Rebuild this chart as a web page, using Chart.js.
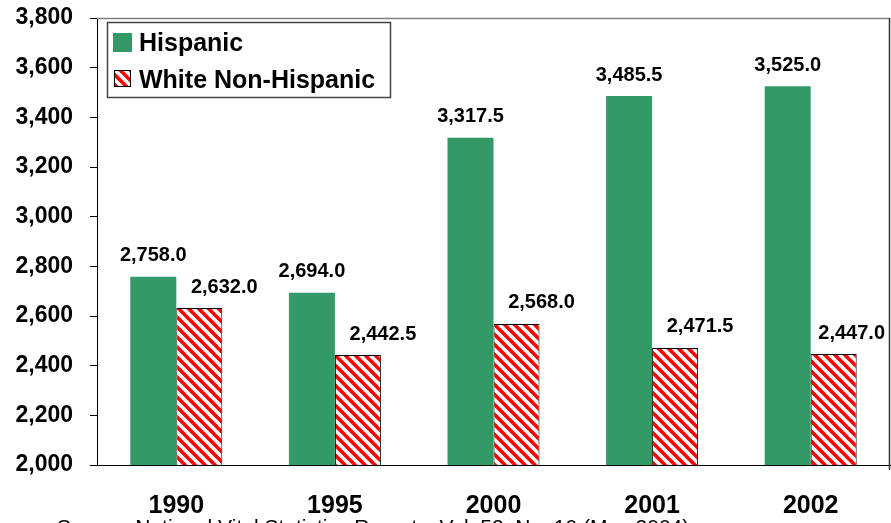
<!DOCTYPE html>
<html>
<head>
<meta charset="utf-8">
<script src="https://cdn.jsdelivr.net/npm/chart.js@4/dist/chart.umd.min.js"></script>
<style>
  html, body { margin: 0; padding: 0; background: #fff; }
  #wrap { width: 891px; height: 523px; position: relative; }
</style>
</head>
<body>
<div id="wrap"><canvas id="birthChart"></canvas></div>
<script>
// Chart data
const years = ['1990', '1995', '2000', '2001', '2002'];
const hispanic = [2758.0, 2694.0, 3317.5, 3485.5, 3525.0];
const whiteNonHispanic = [2632.0, 2442.5, 2568.0, 2471.5, 2447.0];
const seriesNames = ['Hispanic', 'White Non-Hispanic'];
const yTicks = [2000, 2200, 2400, 2600, 2800, 3000, 3200, 3400, 3600, 3800];
const sourceNote = 'Source: National Vital Statistics Reports, Vol. 52, No. 10 (May 2004)';

const GREEN = '#339966';

// red / white diagonal hatch
function makeHatch() {
    const s = 10;
    const c = document.createElement('canvas');
    c.width = s; c.height = s;
    const g = c.getContext('2d');
    g.fillStyle = '#ffffff';
    g.fillRect(0, 0, s, s);
    g.strokeStyle = '#ff0000';
    g.lineWidth = 3.6;
    for (let k = -1; k <= 1; k++) {
        g.beginPath();
        g.moveTo(k * s - 2, -2);
        g.lineTo(k * s + s + 2, s + 2);
        g.stroke();
    }
    return g.createPattern(c, 'repeat');
}
const hatch = makeHatch();

const fmt = v => v.toLocaleString('en-US', { minimumFractionDigits: 1, maximumFractionDigits: 1 });

// value labels over the bars
const valueLabels = {
    id: 'valueLabels',
    afterDatasetsDraw(chart) {
        const ctx = chart.ctx;
        ctx.save();
        ctx.font = 'bold 20px Arial, "Liberation Sans", sans-serif';
        ctx.fillStyle = '#000';
        ctx.textAlign = 'center';
        ctx.textBaseline = 'middle';
        const shifts = [0, 25];
        chart.data.datasets.forEach((ds, i) => {
            chart.getDatasetMeta(i).data.forEach((bar, j) => {
                const txt = fmt(ds.data[j]);
                const half = ctx.measureText(txt).width / 2;
                // keep the label inside the canvas
                const x = Math.min(bar.x + shifts[i], chart.width - 6 - half);
                ctx.fillText(txt, x, bar.y - 21);
            });
        });
        ctx.restore();
    }
};

// frame, legend box and source note
const extras = {
    id: 'extras',
    afterDraw(chart) {
        const ctx = chart.ctx;
        const a = chart.chartArea;
        ctx.save();
        // top and right frame
        ctx.lineWidth = 1.5;
        ctx.strokeStyle = '#808080';
        ctx.beginPath();
        ctx.moveTo(a.left, a.top + 0.5);
        ctx.lineTo(a.right, a.top + 0.5);
        ctx.stroke();
        ctx.strokeStyle = '#333';
        ctx.beginPath();
        ctx.moveTo(a.right - 0.5, a.top);
        ctx.lineTo(a.right - 0.5, a.bottom + 5);
        ctx.stroke();

        // legend
        ctx.lineWidth = 1.5;
        ctx.strokeStyle = '#444';
        ctx.fillStyle = '#fff';
        ctx.fillRect(107, 22, 284, 76);
        ctx.strokeRect(107.5, 22.5, 283, 75);

        const ds = chart.data.datasets;
        ctx.fillStyle = ds[0].backgroundColor;
        ctx.fillRect(113, 33, 19, 19);

        ctx.fillStyle = ds[1].backgroundColor;
        ctx.fillRect(114, 70, 17, 17);
        ctx.lineWidth = 1;
        ctx.strokeStyle = '#000';
        ctx.strokeRect(114.5, 70.5, 16, 16);

        ctx.fillStyle = '#000';
        ctx.font = 'bold 25px Arial, "Liberation Sans", sans-serif';
        ctx.textAlign = 'left';
        ctx.textBaseline = 'middle';
        ctx.fillText(ds[0].label, 139, 44);
        ctx.fillText(ds[1].label, 139, 81);

        // source line, clipped by the window bottom
        ctx.font = '21px Arial, "Liberation Sans", sans-serif';
        ctx.textBaseline = 'alphabetic';
        ctx.fillText(sourceNote, 57, 534);
        ctx.restore();
    }
};

const ctx = document.getElementById('birthChart').getContext('2d');
const birthChart = new Chart(ctx, {
    type: 'bar',
    data: {
        labels: years,
        datasets: [{
            label: seriesNames[0],
            data: hispanic,
            backgroundColor: GREEN,
            borderWidth: 0
        }, {
            label: seriesNames[1],
            data: whiteNonHispanic,
            backgroundColor: hatch,
            borderColor: '#000',
            borderWidth: 1
        }]
    },
    options: {
        responsive: true,
        maintainAspectRatio: false,
        animation: false,
        layout: { padding: { top: 18, right: 1, left: 0, bottom: 0 } },
        datasets: {
            bar: { categoryPercentage: 0.58, barPercentage: 1.0 }
        },
        plugins: {
            legend: { display: false },
            tooltip: { enabled: false }
        },
        scales: {
            x: {
                grid: { display: false, drawTicks: false },
                border: { display: true, color: '#000', width: 1 },
                ticks: {
                    color: '#000',
                    padding: 26,
                    font: { family: '"Liberation Sans Narrow", "Arial Narrow", Arial, sans-serif', size: 25, weight: 'bold' }
                },
                afterFit(scale) {
                    scale.height = 58;
                    scale.paddingLeft = 0;
                    scale.paddingRight = 0;
                }
            },
            y: {
                min: 2000,
                max: 3800,
                afterBuildTicks(scale) { scale.ticks = yTicks.map(v => ({ value: v })); },
                grid: { drawOnChartArea: false, drawTicks: true, tickLength: 7, color: '#000' },
                border: { display: true, color: '#000', width: 1 },
                ticks: {
                    color: '#000',
                    padding: 17,
                    font: { family: 'Arial, "Liberation Sans", sans-serif', size: 23, weight: 'bold' },
                    callback: v => v.toLocaleString('en-US')
                },
                afterFit(scale) {
                    scale.width = 97;
                    scale.paddingTop = 0;
                    scale.paddingBottom = 0;
                }
            }
        }
    },
    plugins: [valueLabels, extras]
});
</script>
</body>
</html>
